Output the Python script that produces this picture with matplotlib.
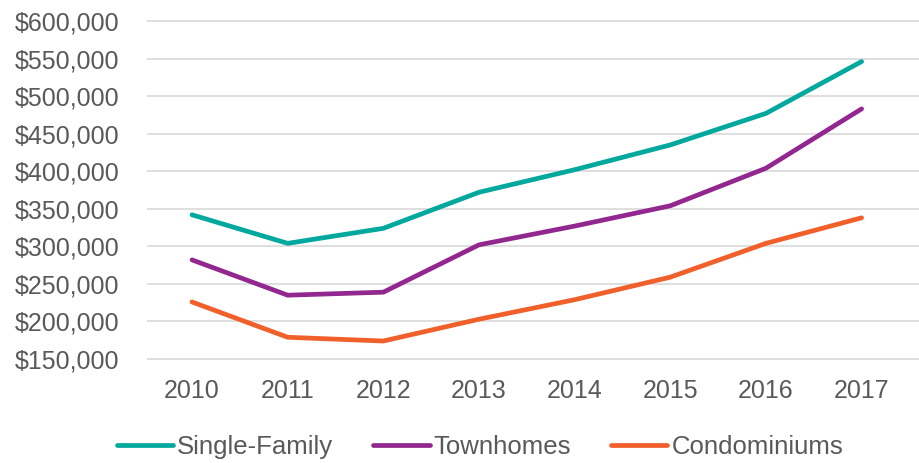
import matplotlib
matplotlib.use("Agg")
import matplotlib.pyplot as plt
from matplotlib.ticker import FuncFormatter

years = ["2010", "2011", "2012", "2013", "2014", "2015", "2016", "2017"]
single_family = [342000, 304000, 324000, 372000, 402000, 435000, 477000, 546000]
townhomes = [282000, 235000, 239000, 302000, 327000, 354000, 404000, 483000]
condominiums = [226000, 179000, 174000, 203000, 229000, 259000, 304000, 338000]

series = [
    ("Single-Family", single_family, "#00a89d"),
    ("Townhomes", townhomes, "#92278f"),
    ("Condominiums", condominiums, "#f15f2a"),
]

plt.rcParams["font.family"] = ["Liberation Sans", "DejaVu Sans"]
text_color = "#595959"

fig = plt.figure(figsize=(9.19, 4.63), dpi=100)
ax = fig.add_axes([0.16, 0.2164, 0.84, 0.7464])

x = list(range(len(years)))
for name, values, color in series:
    ax.plot(x, values, color=color, lw=3.4, solid_capstyle="round",
            solid_joinstyle="round", label=name)

ax.set_xlim(-0.47, 7.6)
ax.set_ylim(145000, 605000)
ax.set_yticks(range(150000, 600001, 50000))
ax.yaxis.set_major_formatter(FuncFormatter(lambda v, p: f"${v:,.0f}"))
ax.set_xticks(x)
ax.set_xticklabels(years)

ax.grid(axis="y", color="#d9d9d9", lw=1.2)
ax.set_axisbelow(True)
for s in ax.spines.values():
    s.set_visible(False)
ax.tick_params(axis="both", length=0, labelsize=18, labelcolor=text_color)
ax.tick_params(axis="y", pad=20)
ax.tick_params(axis="x", pad=12)

fig.legend(loc="center", bbox_to_anchor=(480 / 919, 1 - 447 / 463), ncol=3,
           frameon=False, handlelength=2.2, handletextpad=0.15,
           columnspacing=1.55, labelcolor=text_color,
           prop={"size": 18.5})

fig.savefig("out.png", dpi=100)
